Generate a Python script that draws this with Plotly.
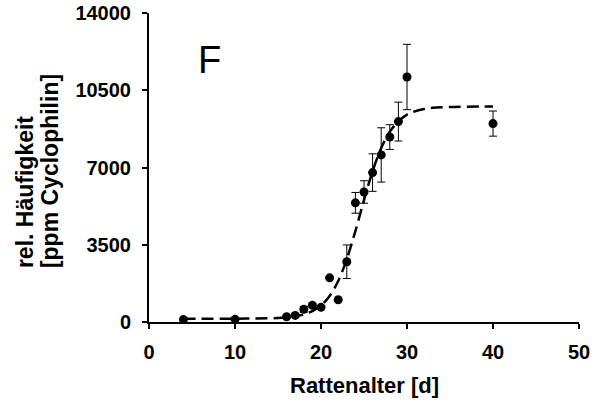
import plotly.graph_objects as go

# Measured data (age in days, abundance in ppm cyclophilin)
age = [4, 10, 16, 17, 18, 19, 20, 21, 22, 23, 24, 25, 26, 27, 28, 29, 30, 40]
mean = [110, 120, 240, 300, 575, 755, 665, 2000, 1010, 2730, 5400, 5890, 6770, 7570, 8380, 9080, 11100, 8990]
err = [0, 0, 40, 50, 130, 90, 80, 0, 0, 760, 470, 510, 850, 1230, 560, 880, 1480, 570]

# Fitted sigmoid curve
fit_x = [4, 10, 15, 17, 18, 19, 20, 21, 22, 23, 24, 25, 26, 27, 28, 29, 30, 32, 35, 40]
fit_y = [150, 150, 185, 260, 345, 495, 750, 1180, 1860, 2850, 4120, 5520, 6830, 7880, 8620, 9090, 9400, 9650, 9740, 9760]

x_ticks = [0, 10, 20, 30, 40, 50]
y_ticks = [0, 3500, 7000, 10500, 14000]

x_title = "Rattenalter [d]"
y_title_lines = ["rel. Häufigkeit", "[ppm Cyclophilin]"]
panel_label = "F"

fig = go.Figure()
fig.add_trace(go.Scatter(
    x=fit_x, y=fit_y, mode="lines", line_shape="spline",
    line=dict(color="black", width=2.5, dash="12px,6px"),
    hoverinfo="skip", showlegend=False))
fig.add_trace(go.Scatter(
    x=age, y=mean, mode="markers",
    marker=dict(color="black", size=9),
    error_y=dict(type="data", array=err, visible=True, color="black", thickness=1, width=4),
    cliponaxis=False, showlegend=False))

fig.add_annotation(x=7, y=11870, text=panel_label, showarrow=False,
                   font=dict(family="Liberation Sans", size=38, color="black"))

# axis titles as annotations for exact placement
fig.add_annotation(xref="paper", yref="paper", x=0.5, y=-0.207, text="<b>%s</b>" % x_title,
                   showarrow=False, xanchor="center", yanchor="middle",
                   font=dict(family="Liberation Sans", size=22, color="black"))
fig.add_annotation(xref="paper", yref="paper", x=-0.2884, y=0.168, text="<b>%s</b>" % y_title_lines[0],
                   showarrow=False, textangle=-90, xanchor="center", yanchor="bottom",
                   font=dict(family="Liberation Sans", size=23, color="black"))
fig.add_annotation(xref="paper", yref="paper", x=-0.2302, y=0.168, text="<b>%s</b>" % y_title_lines[1],
                   showarrow=False, textangle=-90, xanchor="center", yanchor="bottom",
                   font=dict(family="Liberation Sans", size=23, color="black"))

axis_font = dict(family="Liberation Sans", size=20, color="black", weight="bold")
fig.update_layout(
    width=608, height=414,
    margin=dict(l=149, r=29, t=13, b=92, autoexpand=False),
    paper_bgcolor="white", plot_bgcolor="white",
    font=dict(family="Liberation Sans", color="black"),
    xaxis=dict(range=[0, 50], tickvals=x_ticks, ticktext=[str(v) for v in x_ticks],
               showline=True, linecolor="black", linewidth=2, showgrid=False, zeroline=False,
               ticks="outside", ticklen=5, tickwidth=2, tickcolor="black",
               tickfont=axis_font, ticklabelstandoff=6, automargin=False),
    yaxis=dict(range=[0, 14000], tickvals=y_ticks, ticktext=[str(v) for v in y_ticks],
               showline=True, linecolor="black", linewidth=2, showgrid=False, zeroline=False,
               ticks="outside", ticklen=5, tickwidth=2, tickcolor="black",
               tickfont=axis_font, ticklabelstandoff=7, automargin=False),
)

fig.write_html("out.html", config={"displayModeBar": False},
               post_script="document.body.style.margin='0';document.body.style.overflow='hidden';")
